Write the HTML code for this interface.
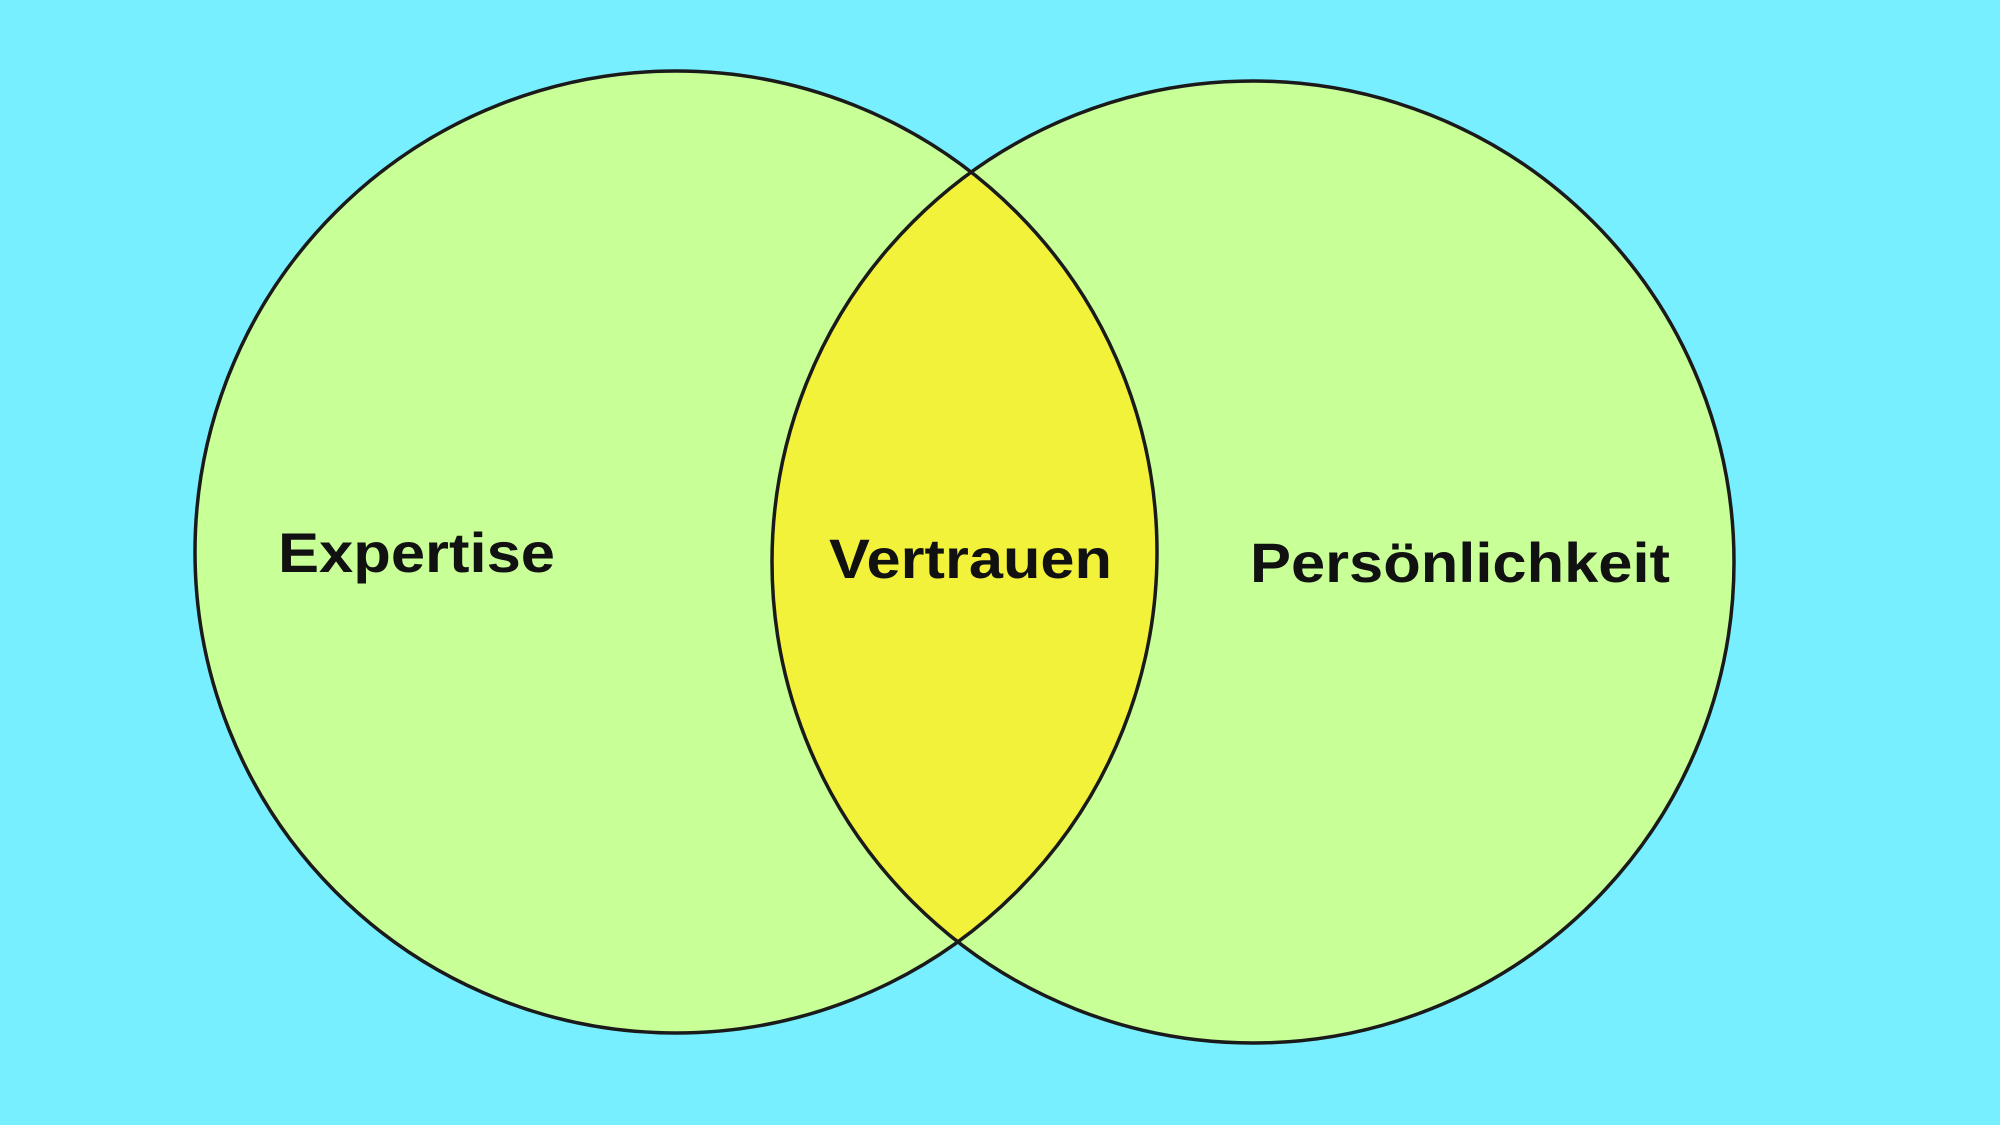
<!DOCTYPE html>
<html><head><meta charset="utf-8"><style>html,body{margin:0;padding:0;background:#78efff;}svg{display:block}</style></head>
<body>
<svg width="2000" height="1125" viewBox="0 0 2000 1125" xmlns="http://www.w3.org/2000/svg">
<defs><clipPath id="c"><circle cx="676" cy="552" r="481"/></clipPath></defs>
<rect width="2000" height="1125" fill="#78efff"/>
<circle cx="676" cy="552" r="481" fill="#c8ff96"/>
<circle cx="1253" cy="562" r="481" fill="#c8ff96"/>
<circle cx="1253" cy="562" r="481" fill="#f2f23a" clip-path="url(#c)"/>
<circle cx="676" cy="552" r="481" fill="none" stroke="#1a1a1a" stroke-width="3.5"/>
<circle cx="1253" cy="562" r="481" fill="none" stroke="#1a1a1a" stroke-width="3.5"/>
<g font-family="Liberation Sans, sans-serif" font-weight="bold" font-size="56" fill="#111">
<text x="278" y="572" textLength="277" lengthAdjust="spacingAndGlyphs">Expertise</text>
<text x="829" y="578" textLength="283" lengthAdjust="spacingAndGlyphs">Vertrauen</text>
<text x="1250" y="582" textLength="420" lengthAdjust="spacingAndGlyphs">Persönlichkeit</text>
</g>
</svg>
</body></html>
